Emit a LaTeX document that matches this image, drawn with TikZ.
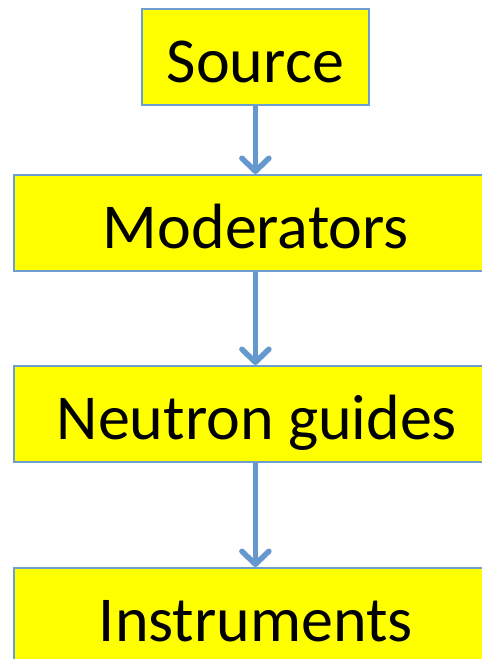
\documentclass[tikz,border=0pt]{standalone}
\usepackage{fontspec}
\setmainfont{Carlito}
\usetikzlibrary{arrows.meta}
\definecolor{boxfill}{RGB}{255,255,0}
\definecolor{boxline}{RGB}{108,158,210}
\definecolor{flow}{RGB}{100,152,206}
\tikzset{
  stage/.style={draw=boxline, line width=1.8pt, fill=boxfill, minimum height=96pt,
                inner sep=0pt, anchor=north west},
  stagetext/.style={anchor=base, inner sep=0pt, font=\fontsize{64}{77}\selectfont},
  flowarrow/.style={draw=flow, line width=5.5pt,
                    -{Straight Barb[length=13pt, width=27pt, round, line width=5.5pt]}}
}
\begin{document}
\begin{tikzpicture}[x=1pt, y=-1pt]
  \useasboundingbox (0,0) rectangle (482,659);
  \clip (0,0) rectangle (482,659);
  % stages of the chain
  \node[stage, minimum width=227pt] (src) at (141,8) {};
  \node[stage, minimum width=484pt] (mod) at (13,174) {};
  \node[stage, minimum width=484pt] (gui) at (13,365) {};
  \node[stage, minimum width=484pt] (ins) at (13,567) {};
  % labels, set on a common baseline below each top edge
  \node[stagetext] (srct) at ([yshift=-74pt]src.north) {Source};
  \node[stagetext] (modt) at ([xshift=0pt,yshift=-74pt]mod.north) {Moderators};
  \node[stagetext] (guit) at ([xshift=1pt,yshift=-74pt]gui.north) {Neutron guides};
  \node[stagetext] (inst) at ([yshift=-74pt]ins.north) {Instruments};
  % flow arrows
  \draw[flowarrow] (src.south) -- (src.south |- mod.north);
  \draw[flowarrow] (src.south |- mod.south) -- (src.south |- gui.north);
  \draw[flowarrow] (src.south |- gui.south) -- (src.south |- ins.north);
\end{tikzpicture}
\end{document}
